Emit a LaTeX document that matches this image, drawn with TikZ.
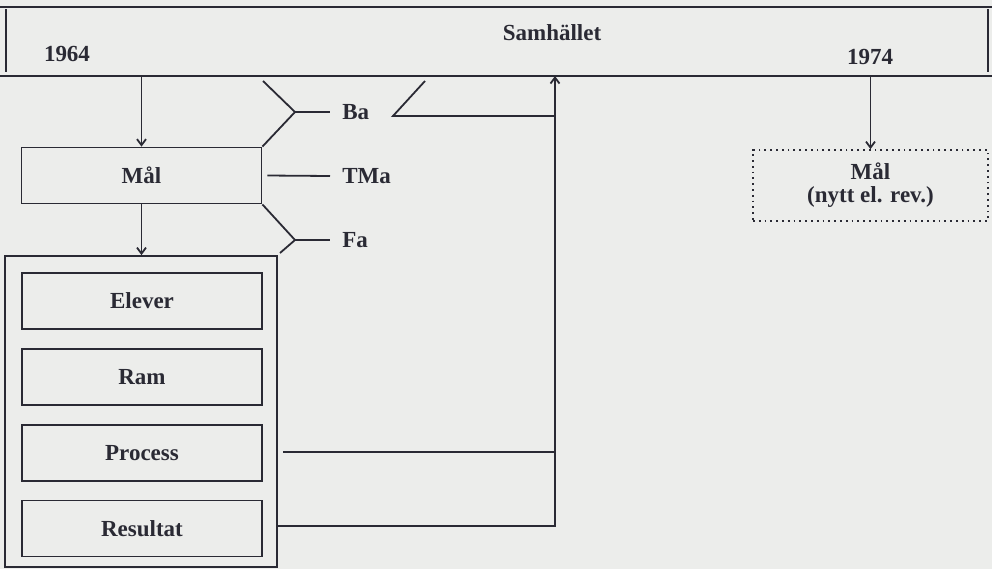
\documentclass[tikz,border=0pt]{standalone}
\usepackage{fontspec}
\setmainfont{Liberation Serif}
\usetikzlibrary{
  arrows.meta,
  positioning
}
\definecolor{PaperGray}{RGB}{236,237,235}
\definecolor{InkGray}{RGB}{42,42,52}
\tikzset{
  box/.style={draw=InkGray,text=InkGray,line width=0.9pt,minimum width=120pt,minimum height=28pt,inner sep=0pt,align=center,font=\fontsize{11.5}{12}\selectfont\bfseries},
  outerbox/.style={draw=InkGray,line width=0.9pt,minimum width=136pt,minimum height=155.5pt,inner sep=0pt},
  newgoal/.style={draw=InkGray,text=InkGray,dotted,line width=0.9pt,minimum width=117.5pt,minimum height=35.5pt,inner sep=0pt,align=center,font=\fontsize{11.5}{11.5}\selectfont\bfseries},
  bandtext/.style={text=InkGray,font=\fontsize{11.5}{12}\selectfont\bfseries},
  tag/.style={anchor=west,inner xsep=6pt,text=InkGray,font=\fontsize{11.5}{12}\selectfont\bfseries},
  bandline/.style={draw=InkGray,line width=1pt},
  link/.style={draw=InkGray,line width=0.9pt},
  flow/.style={-{Straight Barb[length=3pt,width=4.5pt]},draw=InkGray,line width=0.9pt}
}

\begin{document}
\begin{tikzpicture}[x=0.5pt,y=-0.5pt,node distance=9pt]
\fill[PaperGray] (0,0) rectangle (992,569);
\useasboundingbox (0,0) rectangle (992,569);
% band: Samhället
\draw[bandline] (0,7) -- (992,7);
\draw[bandline] (0,76) -- (992,76);
\draw[bandline] (6,9) -- (6,72);
\draw[bandline] (988,9) -- (988,72);
\coordinate (bandS) at (0,76);
\node[bandtext] (y64) at (67,54) {1964};
\node[bandtext] (samh) at (552,33) {Samhället};
\node[bandtext] (y74) at (870,57) {1974};
% school
\node[box] (mal) at (141.5,175.5) {Mål};
\node[outerbox] (school) at (141,411.5) {};
\node[box] (elever) at (142,301) {Elever};
\node[box, below=of elever] (ram) {Ram};
\node[box, below=of ram] (process) {Process};
\node[box, below=of process] (resultat) {Resultat};
\draw[flow] (mal.north |- bandS) -- (mal.north);
\draw[flow] (mal.south) -- (mal.south |- school.north);
% Ba, TMa, Fa
\coordinate (baTop) at (263,81);
\coordinate (baJ) at (295,112);
\node[tag] (ba) at (330,112) {Ba};
\draw[link] (baTop) -- (baJ) -- (mal.north east);
\draw[link] (baJ) -- (ba.west);
\node[tag] (tma) at (330,176) {TMa};
\draw[link] ([xshift=2.5pt]mal.east) -- (tma.west);
\coordinate (faJ) at (295,240);
\coordinate (faLow) at (280,253);
\node[tag] (fa) at (330,240) {Fa};
\draw[link] (mal.south east) -- (faJ) -- (faLow);
\draw[link] (faJ) -- (fa.west);
% feedback
\coordinate (loopB) at (555,526);
\draw[flow] (loopB -| school.east) -- (loopB) -- (loopB |- bandS);
\coordinate (procL) at (283,452);
\draw[link] (procL) -- (procL -| loopB);
\coordinate (baR) at (393,116);
\coordinate (baUp) at (425,81);
\draw[link] (baUp) -- (baR) -- (baR -| loopB);
% 1974
\node[newgoal] (nymal) at (870.5,185.5) {Mål\\(nytt el. rev.)};
\draw[flow] (nymal.north |- bandS) -- (nymal.north);
\end{tikzpicture}
\end{document}
